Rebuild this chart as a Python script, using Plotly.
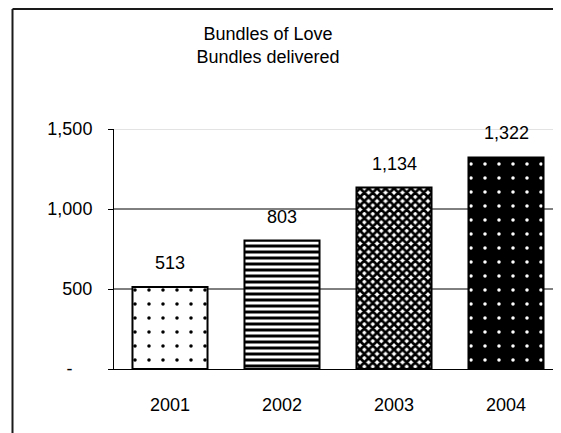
import plotly.graph_objects as go

# ---- data ----
years = ["2001", "2002", "2003", "2004"]
bundles = [513, 803, 1134, 1322]
tick_vals = [0, 500, 1000, 1500]
tick_text = ["-\u2007\u2007", "500", "1,000", "1,500"]
title_lines = ["Bundles of Love", "Bundles delivered"]

# bar fill styles (pattern, foreground, background, size, solidity)
styles = [
    (".", "black", "white", 14, 0.05),
    ("-", "black", "white", 6, 0.5),
    ("x", "black", "white", 6, 0.7),
    (".", "white", "black", 14, 0.05),
]

# the page body adds an 8px offset; layout numbers below compensate for it
OFF = 8
W, H = 561, 433
L = 114 - OFF
T = 129 - OFF
B = H - (369 - OFF)
R = W - (562 - OFF)
FONT = "Liberation Sans, Arial, sans-serif"
FS = 18

fig = go.Figure()
for yr, v, (shp, fg, bg, sz, sol) in zip(years, bundles, styles):
    fig.add_trace(go.Bar(
        x=[yr], y=[v], width=0.67,
        marker=dict(
            color=bg,
            line=dict(color="black", width=2),
            pattern=dict(shape=shp, fgcolor=fg, bgcolor=bg, size=sz,
                         solidity=sol, fillmode="overlay", fgopacity=1),
        ),
        hoverinfo="skip",
    ))

# value labels (x as category index)
for i, v in enumerate(bundles):
    fig.add_annotation(x=i, y=v, xref="x", yref="y", text=f"{v:,}", showarrow=False,
                       xanchor="center", yanchor="bottom", yshift=12,
                       font=dict(family=FONT, size=FS, color="black"))

# gridlines from tick values
for v in tick_vals[1:]:
    fig.add_shape(type="line", xref="paper", x0=0, x1=1, yref="y", y0=v, y1=v,
                  line=dict(color="#c8c8c8" if v == max(tick_vals) else "black", width=1),
                  layer="below")

# outer chart frame (top and left edges visible)
pw, ph = W - L - R, H - T - B
fx = (12.5 - OFF - L) / pw
fy_top = (H - B - 1) / ph
fy_bot = -(B + 5) / ph
fig.add_shape(type="line", xref="paper", yref="paper", x0=fx, x1=1.1, y0=fy_top, y1=fy_top,
              line=dict(color="#1a1a1a", width=2))
fig.add_shape(type="line", xref="paper", yref="paper", x0=fx, x1=fx, y0=fy_top, y1=fy_bot,
              line=dict(color="#1a1a1a", width=2))

fig.update_layout(
    width=W, height=H,
    margin=dict(l=L, r=R, t=T, b=B, pad=0, autoexpand=False),
    paper_bgcolor="white", plot_bgcolor="white",
    showlegend=False,
    barmode="overlay",
    title=dict(text="<br>".join(title_lines), x=(268 - OFF) / W, xanchor="center",
               xref="container", y=1 - 32 / H, yanchor="top", yref="container",
               font=dict(family=FONT, size=FS, color="black")),
    font=dict(family=FONT, size=FS, color="black"),
    xaxis=dict(type="category", categoryorder="array", categoryarray=years,
               range=[-0.5, len(years) - 0.5],
               showline=True, linecolor="black", linewidth=1, ticks="",
               showgrid=False, ticklabelstandoff=19, automargin=False,
               tickfont=dict(family=FONT, size=FS, color="black")),
    yaxis=dict(range=[0, 1500], tickvals=tick_vals, ticktext=tick_text,
               showline=True, linecolor="black", linewidth=1,
               ticks="outside", ticklen=5, tickcolor="black", tickwidth=1,
               showgrid=False, zeroline=False, ticklabelstandoff=12, automargin=False,
               tickfont=dict(family=FONT, size=FS, color="black")),
)

fig.write_html("out.html")
